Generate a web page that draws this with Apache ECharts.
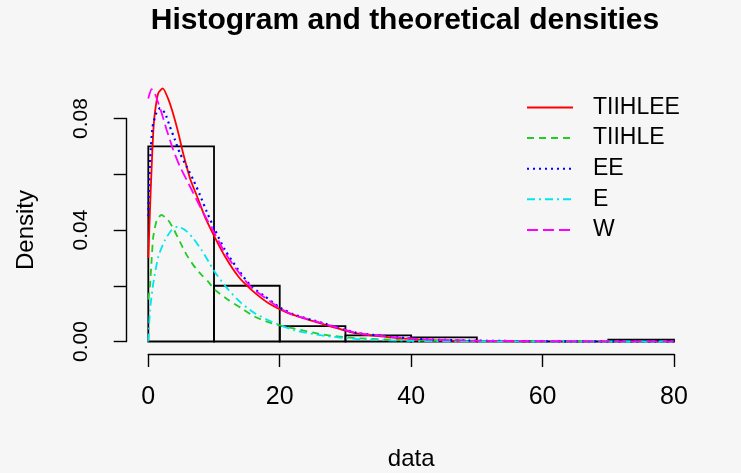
<!DOCTYPE html>
<html>
<head>
<meta charset="utf-8">
<script src="https://cdn.jsdelivr.net/npm/echarts@6/dist/echarts.min.js"></script>
<style>
html,body{margin:0;padding:0;background:#f6f6f6;}
#chart{width:741px;height:473px;}
</style>
</head>
<body>
<div id="chart"></div>
<script>
// Histogram bins and densities
const binEdges = [0, 10, 20, 30, 40, 50, 60, 70, 80];
const binDensity = [0.0700, 0.0200, 0.0055, 0.0022, 0.0015, 0, 0, 0.0007];

// Theoretical density curves (x, density)
const redX   = [0, 0.3, 0.5, 0.75, 1.0, 1.5, 2.2, 3.0, 3.8, 4.6, 5.3, 6.35, 7.6, 8.6, 10.2, 11.7, 13.7, 15.7, 18.3, 20.8, 23, 26.6, 31.7, 36.8, 42, 50, 58];
const redY   = [0.030, 0.050, 0.062, 0.075, 0.082, 0.089, 0.0908, 0.0872, 0.0815, 0.0745, 0.0675, 0.0585, 0.051, 0.0448, 0.037, 0.0304, 0.0233, 0.0185, 0.0137, 0.0107, 0.0088, 0.0062, 0.0029, 0.0015, 0.0006, 0.0002, 0.00005];

const greenX = [0, 0.25, 0.5, 0.75, 1.3, 2.0, 3.0, 3.8, 4.8, 5.85, 6.85, 8.1, 9.1, 10.15, 12.2, 14.2, 16.2, 18.8, 22.1, 26.6, 31.7, 40, 50, 60, 80];
const greenY = [0.015, 0.020, 0.029, 0.0375, 0.0436, 0.0454, 0.0436, 0.0406, 0.0358, 0.031, 0.0274, 0.0239, 0.0215, 0.0185, 0.0149, 0.0119, 0.0089, 0.0065, 0.0047, 0.0025, 0.0012, 0.0004, 0.0001, 0.00003, 0];

const blueX  = [0, 0.1, 0.3, 0.65, 1.28, 1.8, 2.54, 3.3, 4.06, 4.82, 5.84, 6.85, 7.87, 8.9, 10.15, 11.67, 13.7, 15.7, 17.8, 19.8, 22.1, 26.6, 31.7, 36.8, 42, 50, 60, 80];
const blueY  = [0.045, 0.055, 0.066, 0.077, 0.0824, 0.0837, 0.0819, 0.077, 0.0723, 0.0675, 0.0627, 0.058, 0.0525, 0.0465, 0.040, 0.0328, 0.0257, 0.0197, 0.0161, 0.0125, 0.0097, 0.0066, 0.0031, 0.0018, 0.0008, 0.0003, 0.0001, 0];

const cyanX  = [0, 0.26, 0.76, 1.52, 2.54, 3.56, 4.5, 5.6, 6.85, 8.1, 9.4, 10.15, 12.2, 14.2, 16.2, 18.8, 22.1, 26.6, 31.7, 40, 50, 80];
const cyanY  = [0, 0.0113, 0.0209, 0.0304, 0.0364, 0.040, 0.0412, 0.040, 0.037, 0.0328, 0.0278, 0.0248, 0.0185, 0.0137, 0.0101, 0.0071, 0.0041, 0.0021, 0.0009, 0.0002, 0.00005, 0];

const magX   = [0, 0.5, 0.9, 1.28, 2.04, 2.8, 3.8, 4.82, 5.84, 6.85, 7.87, 10.15, 11.67, 13.7, 15.7, 17.8, 19.8, 22.1, 26.6, 31.7, 36.8, 42, 50, 60, 80];
const magY   = [0.0872, 0.0905, 0.0895, 0.0872, 0.0819, 0.0759, 0.0687, 0.0627, 0.058, 0.0532, 0.0484, 0.0385, 0.0318, 0.025, 0.0193, 0.0157, 0.0122, 0.0095, 0.0065, 0.0031, 0.0017, 0.0008, 0.0003, 0.0001, 0.00002];

const seriesNames = ['TIIHLEE', 'TIIHLE', 'EE', 'E', 'W'];
const xTicks = [0, 20, 40, 60, 80];
const yLabelValues = [0, 0.04, 0.08];

function pairs(xs, ys) { return xs.map((x, i) => [x, ys[i]]); }

const histData = binDensity.map((d, i) => [binEdges[i], binEdges[i + 1], d]);

const FONT = '"Liberation Sans", Arial, sans-serif';
const chart = echarts.init(document.getElementById('chart'), null, {renderer: 'canvas'});

function lineSeries(name, data, color, type, width) {
  return {
    name: name, type: 'line', data: data, smooth: 0.2, symbol: 'none', showSymbol: false,
    clip: false, z: 3,
    lineStyle: {color: color, width: width, type: type},
    itemStyle: {color: color}
  };
}

const option = {
  backgroundColor: '#f6f6f6',
  animation: false,
  title: {
    text: 'Histogram and theoretical densities',
    left: 405, top: 6, padding: 0, textAlign: 'center',
    textStyle: {fontFamily: FONT, fontSize: 30, fontWeight: 'bold', color: '#000'}
  },
  legend: {
    data: seriesNames,
    orient: 'vertical', left: 526, top: 96, padding: 0,
    itemWidth: 46, itemHeight: 22, itemGap: 7.6,
    itemStyle: {opacity: 0, borderWidth: 0},
    textStyle: {fontFamily: FONT, fontSize: 23, color: '#000', lineHeight: 22, padding: [0, 0, 0, 15]},
    selectedMode: false
  },
  grid: {left: 148.3, right: 67, top: 118.5, bottom: 131.5, containLabel: false},
  xAxis: {
    type: 'value', min: 0, max: 80, interval: 20, offset: 12.5,
    name: 'data', nameLocation: 'middle', nameGap: 93,
    nameTextStyle: {fontFamily: FONT, fontSize: 24, color: '#000'},
    axisLine: {show: true, onZero: false, lineStyle: {color: '#000', width: 1.4}},
    axisTick: {show: true, length: 13, lineStyle: {color: '#000', width: 1.4}},
    axisLabel: {fontFamily: FONT, fontSize: 25, color: '#000', margin: 31,
      formatter: v => xTicks.indexOf(v) >= 0 ? String(v) : ''},
    splitLine: {show: false}
  },
  yAxis: {
    type: 'value', min: 0, max: 0.08, interval: 0.02, offset: 21.6,
    name: 'Density', nameLocation: 'middle', nameGap: 88, nameRotate: 90,
    nameTextStyle: {fontFamily: FONT, fontSize: 24, color: '#000'},
    axisLine: {show: true, onZero: false, lineStyle: {color: '#000', width: 1.4}},
    axisTick: {show: true, length: 13, lineStyle: {color: '#000', width: 1.4}},
    axisLabel: {fontFamily: FONT, fontSize: 21, color: '#000', margin: 35, rotate: 90,
      formatter: v => yLabelValues.some(t => Math.abs(t - v) < 1e-9) ? v.toFixed(2) : ''},
    splitLine: {show: false}
  },
  series: [
    {
      type: 'custom', name: 'hist', z: 2, clip: false,
      data: histData,
      renderItem: function (params, api) {
        const p0 = api.coord([api.value(0), api.value(2)]);
        const p1 = api.coord([api.value(1), 0]);
        return {
          type: 'rect',
          shape: {x: p0[0], y: p0[1], width: p1[0] - p0[0], height: p1[1] - p0[1]},
          style: {fill: 'none', stroke: '#000', lineWidth: 1.8}
        };
      }
    },
    lineSeries('TIIHLEE', pairs(redX, redY), '#ff0000', 'solid', 1.8),
    lineSeries('TIIHLE', pairs(greenX, greenY), '#22cc22', [7, 5], 1.8),
    lineSeries('EE', pairs(blueX, blueY), '#0000ff', [2, 4], 2.2),
    lineSeries('E', pairs(cyanX, cyanY), '#00e5ee', [8, 4, 2, 4], 1.8),
    lineSeries('W', pairs(magX, magY), '#ff00ff', [11, 5], 1.8)
  ]
};
chart.setOption(option);
</script>
</body>
</html>
